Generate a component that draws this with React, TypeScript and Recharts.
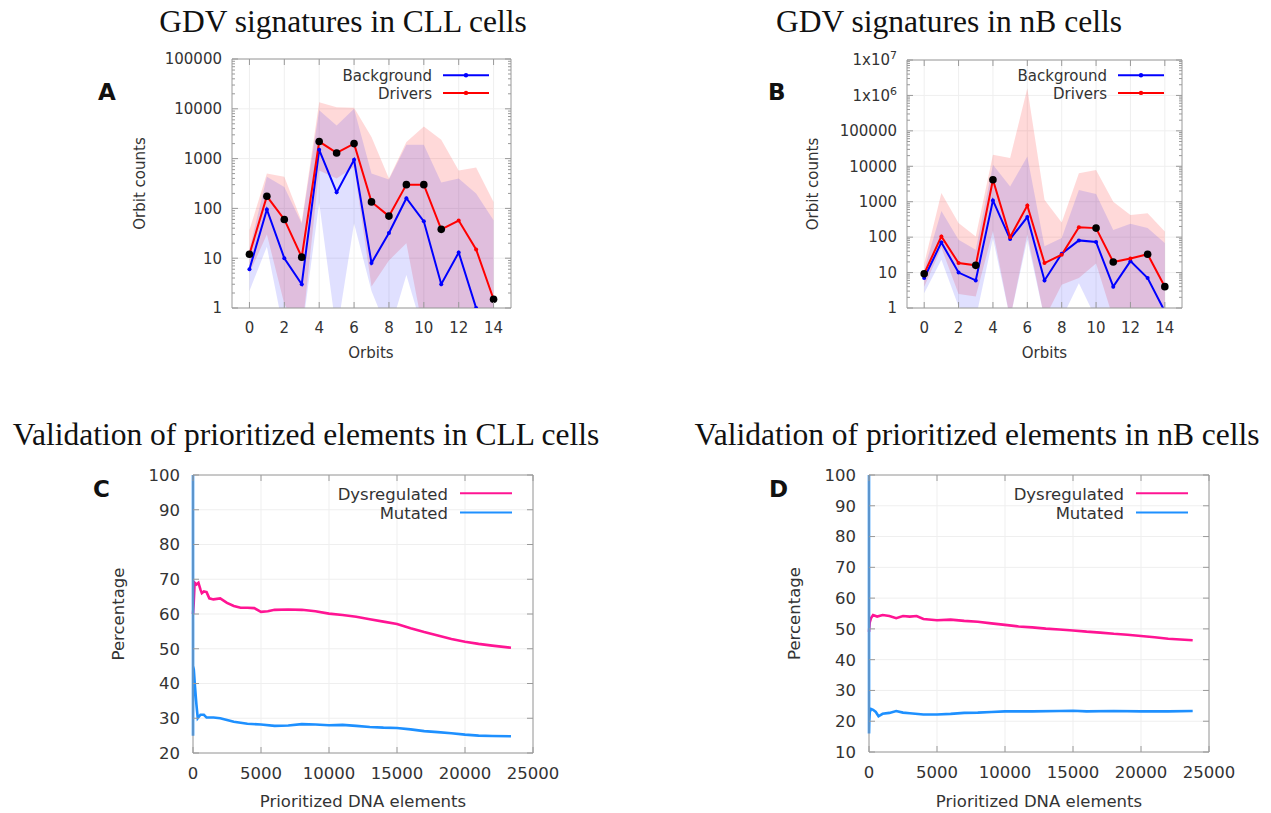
import React from "react";
import { ComposedChart, LineChart, Line, Area, XAxis, YAxis, CartesianGrid, Legend, ReferenceLine } from "recharts";

// ---- GDV panels (A, B) ----
const orbits = [0, 1, 2, 3, 4, 5, 6, 7, 8, 9, 10, 11, 12, 13, 14];
const orbitTicks = [0, 2, 4, 6, 8, 10, 12, 14];

// CLL cells
const cllBackground = [6, 95, 10, 3, 1500, 210, 950, 8, 32, 160, 55, 3, 13, 1, null];
const cllDrivers = [12, 175, 60, 10.5, 2200, 1300, 2000, 135, 70, 300, 300, 38, 57, 15, 1.5];
const cllSignificant = [1, 1, 1, 1, 1, 1, 1, 1, 1, 1, 1, 1, 0, 0, 1];
const cllBgLow = [2.2, 17, 0.3, 0.3, 130, 0.3, 50, 2.2, 0.3, 4.6, 0.3, 0.3, 0.3, 0.3, 0.3];
const cllBgHigh = [15, 430, 270, 50, 9300, 4600, 10000, 500, 380, 1900, 1900, 330, 400, 200, 58];
const cllDrvLow = [5, 30, 1.2, 0.3, 580, 400, 680, 2.7, 9, 20, 0.3, 0.3, 0.3, 0.3, 0.3];
const cllDrvHigh = [37, 500, 430, 54, 13500, 10700, 10500, 2700, 400, 2150, 4400, 2400, 580, 660, 135];
const cllTicks = [1, 10, 100, 1000, 10000, 100000];
const cllTickLabels = ["1", "10", "100", "1000", "10000", "100000"];

// nB cells
const nbBackground = [7, 71, 10, 6, 1090, 88, 370, 6, 34, 81, 73, 4, 21, 7, 0.8];
const nbDrivers = [9.3, 105, 18.5, 16, 4150, 100, 780, 18.5, 32, 190, 180, 19.8, 25, 33, 4];
const nbSignificant = [1, 0, 0, 1, 1, 0, 0, 0, 0, 0, 1, 1, 0, 1, 1];
const nbBgLow = [2.6, 23, 1.1, 0.5, 93, 0.5, 85, 0.5, 0.5, 5, 0.5, 0.5, 0.5, 0.5, 0.5];
const nbBgHigh = [12, 550, 85, 44, 11000, 2700, 19000, 55, 94, 2150, 1650, 160, 240, 180, 68];
const nbDrvLow = [4, 50, 2.5, 2.1, 150, 0.5, 120, 0.5, 4.5, 7, 18, 0.5, 0.5, 0.5, 0.5];
const nbDrvHigh = [18, 1750, 250, 105, 21000, 17000, 1600000, 1140, 260, 6400, 7900, 1000, 425, 475, 145];
const nbTicks = [1, 10, 100, 1000, 10000, 100000, 1000000, 10000000];
const nbTickLabels = ["1", "10", "100", "1000", "10000", "100000", "1x10^6", "1x10^7"];

// ---- Validation panels (C, D) ----
const pdeTicks = [0, 5000, 10000, 15000, 20000, 25000];

const cllDysX = [0, 50, 120, 250, 400, 550, 650, 800, 1000, 1200, 1500, 2000, 2500, 3000, 3500, 4000, 4500, 5000, 5500, 6000, 7000, 8000, 9000, 10000, 11000, 12000, 13000, 14000, 15000, 16000, 17000, 18000, 19000, 20000, 21000, 22000, 23380];
const cllDysY = [60, 63, 69, 68.5, 69, 67, 66, 66.5, 66.3, 64.5, 64.2, 64.5, 63.2, 62.3, 61.8, 61.8, 61.7, 60.6, 60.8, 61.2, 61.3, 61.2, 60.8, 60.1, 59.7, 59.2, 58.5, 57.8, 57.1, 55.9, 54.8, 53.8, 52.8, 52, 51.4, 50.9, 50.3];
const cllMutX = [0, 3, 10, 60, 150, 250, 350, 450, 550, 800, 1000, 1500, 2000, 2500, 3000, 4000, 5000, 6000, 7000, 8000, 9000, 10000, 11000, 12000, 13000, 14000, 15000, 16000, 17000, 18000, 19000, 20000, 21000, 22000, 23380];
const cllMutY = [100, 25, 45, 44, 39, 34, 30, 30.5, 31, 31, 30.2, 30.2, 30, 29.5, 29, 28.4, 28.2, 27.8, 27.9, 28.3, 28.2, 28, 28.1, 27.8, 27.5, 27.3, 27.2, 26.8, 26.3, 26, 25.7, 25.3, 25, 24.9, 24.8];
const cllPctTicks = [20, 30, 40, 50, 60, 70, 80, 90, 100];

const nbDysX = [0, 50, 150, 300, 600, 1000, 1500, 2000, 2500, 3000, 3500, 4000, 5000, 6000, 7000, 8000, 9000, 10000, 11000, 12000, 13000, 14000, 15000, 16000, 17000, 18000, 19000, 20000, 21000, 22000, 23800];
const nbDysY = [49, 52, 53.5, 54.5, 54, 54.5, 54.2, 53.5, 54.2, 54, 54.2, 53.2, 52.8, 53, 52.6, 52.3, 51.8, 51.3, 50.8, 50.5, 50.1, 49.8, 49.5, 49.1, 48.8, 48.4, 48.1, 47.7, 47.3, 46.8, 46.3];
const nbMutX = [0, 3, 20, 60, 150, 300, 500, 700, 1000, 1500, 2000, 2500, 3000, 4000, 5000, 6000, 7000, 8000, 9000, 10000, 12000, 14000, 15000, 16000, 18000, 20000, 22000, 23800];
const nbMutY = [100, 16, 20, 23, 24, 23.7, 23, 21.6, 22.4, 22.7, 23.3, 22.8, 22.6, 22.2, 22.2, 22.4, 22.7, 22.8, 23, 23.2, 23.2, 23.3, 23.4, 23.2, 23.3, 23.2, 23.2, 23.3];
const nbPctTicks = [10, 20, 30, 40, 50, 60, 70, 80, 90, 100];

const FRAME = "#9a9a9a";
const GRID = "#efefef";
const TXT = "#333";
const SANS = "DejaVu Sans";
const SERIF = "Liberation Serif";

const gdvRows = (bg: any[], drv: any[], bgLo: number[], bgHi: number[], drvLo: number[], drvHi: number[]) =>
  orbits.map((orbit, i) => ({
    orbit,
    background: bg[i],
    drivers: drv[i],
    bgRange: [bgLo[i], bgHi[i]],
    drvRange: [drvLo[i], drvHi[i]],
  }));

const cllRows = gdvRows(cllBackground, cllDrivers, cllBgLow, cllBgHigh, cllDrvLow, cllDrvHigh);
const nbRows = gdvRows(nbBackground, nbDrivers, nbBgLow, nbBgHigh, nbDrvLow, nbDrvHigh);

const pairs = (xs: number[], ys: number[]) => xs.map((x, i) => ({ x, y: ys[i] }));

const minorLog = (maxExp: number) => {
  const out: number[] = [];
  for (let e = 0; e < maxExp; e++) for (let m = 2; m <= 9; m++) out.push(m * Math.pow(10, e));
  return out;
};

// plot box inside a chart, from its size, margins and axis sizes
const plotBox = (w: number, h: number, m: any, yW: number, xH: number) => ({
  left: m.left + yW,
  right: w - m.right,
  top: m.top,
  bottom: h - m.bottom - xH,
});

// x tick: label below, inward marks at bottom and top (gnuplot style)
function XTick({ x, y, payload, box, fontSize }: any) {
  return (
    <g>
      <line x1={x} x2={x} y1={box.bottom} y2={box.bottom - 6} stroke={FRAME} />
      <line x1={x} x2={x} y1={box.top} y2={box.top + 6} stroke={FRAME} />
      <text x={x} y={y} dy="0.71em" textAnchor="middle" fontFamily={SANS} fontSize={fontSize} fill={TXT}>
        {payload.value}
      </text>
    </g>
  );
}

// y tick: label for major values, inward marks on left and right, short ones for minors
function YTick({ x, y, payload, box, fontSize, majors, labels }: any) {
  const k = majors.indexOf(payload.value);
  const len = k >= 0 ? 6 : 3;
  const label = k >= 0 ? labels[k] : "";
  const [mant, exp] = label.split("^");
  return (
    <g>
      <line x1={box.left} x2={box.left + len} y1={y} y2={y} stroke={FRAME} />
      <line x1={box.right - len} x2={box.right} y1={y} y2={y} stroke={FRAME} />
      {k >= 0 && (
        <text x={x} y={y} dy="0.355em" textAnchor="end" fontFamily={SANS} fontSize={fontSize} fill={TXT}>
          {mant}
          {exp && (
            <tspan dy={-6} fontSize={11}>
              {exp}
            </tspan>
          )}
        </text>
      )}
    </g>
  );
}

function SeriesLegend({ payload, textRight, lineLen, gap, rowH, fontSize, lift, dot }: any) {
  const items = (payload || []).filter((e: any) => e.type !== "none");
  return (
    <svg width={textRight + gap + lineLen + 4} height={fontSize + rowH * items.length} style={{ display: "block", overflow: "visible" }}>
      {items.map((e: any, i: number) => {
        const base = fontSize + i * rowH;
        const ly = base - lift;
        const x1 = textRight + gap;
        const x2 = x1 + lineLen;
        return (
          <g key={i}>
            <text x={textRight} y={base} textAnchor="end" fontFamily={SANS} fontSize={fontSize} fill={TXT}>
              {e.value}
            </text>
            <line x1={x1} x2={x2} y1={ly} y2={ly} stroke={e.color} strokeWidth={2} />
            {dot && <circle cx={(x1 + x2) / 2} cy={ly} r={2.2} fill={e.color} />}
          </g>
        );
      })}
    </svg>
  );
}

function GdvPanel({ left, top, marginTop, marginRight, rows, sig, yTicks, yLabels, minor }: any) {
  const yMax = yTicks[yTicks.length - 1];
  const margin = { top: marginTop, right: marginRight, bottom: 0, left: 0 };
  const box = plotBox(430, 310, margin, 132, 32);
  const redDot = (p: any) => {
    const { cx, cy, index } = p;
    if (cx == null || cy == null) return <g key={index} />;
    return sig[index] ? (
      <circle key={index} cx={cx} cy={cy} r={3.8} fill="#000" />
    ) : (
      <circle key={index} cx={cx} cy={cy} r={2} fill="#ff0000" />
    );
  };
  return (
    <div style={{ position: "absolute", left, top }}>
      <ComposedChart width={430} height={310} data={rows} margin={margin}>
        <CartesianGrid stroke={GRID} horizontalValues={yTicks} verticalValues={orbitTicks} />
        <XAxis dataKey="orbit" type="number" domain={[-1, 15]} allowDataOverflow ticks={orbitTicks} interval={0} height={32}
          tickLine={false} tickSize={0} tickMargin={14} axisLine={{ stroke: FRAME }}
          tick={(p: any) => <XTick {...p} box={box} fontSize={15} />} />
        <YAxis type="number" scale="log" domain={[1, yMax]} allowDataOverflow ticks={[...yTicks, ...minor]} interval={0} width={132}
          tickLine={false} tickSize={0} tickMargin={10} axisLine={{ stroke: FRAME }}
          tick={(p: any) => <YTick {...p} box={box} fontSize={15} majors={yTicks} labels={yLabels} />} />
        <ReferenceLine y={yMax} stroke={FRAME} />
        <ReferenceLine x={15} stroke={FRAME} />
        <Area dataKey="drvRange" type="linear" stroke="none" fill="#ff0000" fillOpacity={0.15} legendType="none" isAnimationActive={false} />
        <Area dataKey="bgRange" type="linear" stroke="none" fill="#0000ff" fillOpacity={0.12} legendType="none" isAnimationActive={false} />
        <Line dataKey="background" name="Background" type="linear" stroke="#0000ff" strokeWidth={2}
          dot={{ r: 2, fill: "#0000ff", stroke: "none" }} isAnimationActive={false} />
        <Line dataKey="drivers" name="Drivers" type="linear" stroke="#ff0000" strokeWidth={2} dot={redDot} isAnimationActive={false} />
        <Legend layout="vertical" align="center" verticalAlign="middle" wrapperStyle={{ left: 200, top: 35.7 }}
          content={(p: any) => <SeriesLegend payload={p.payload} textRight={132} lineLen={46} gap={11} rowH={17.6} fontSize={15} lift={5.7} dot />} />
      </ComposedChart>
    </div>
  );
}

function ValidationPanel({ left, dys, mut, yTicks, xAxisHeight }: any) {
  const yDomain = [yTicks[0], yTicks[yTicks.length - 1]];
  const margin = { top: 15, right: 47, bottom: 0, left: 0 };
  const box = plotBox(520, 330, margin, 133, xAxisHeight);
  const labels = yTicks.map(String);
  return (
    <div style={{ position: "absolute", left, top: 460 }}>
      <LineChart width={520} height={330} margin={margin}>
        <CartesianGrid stroke={GRID} horizontalValues={yTicks} verticalValues={pdeTicks} />
        <XAxis dataKey="x" type="number" domain={[0, 25000]} ticks={pdeTicks} interval={0} height={xAxisHeight}
          tickLine={false} tickSize={0} tickMargin={14} axisLine={{ stroke: FRAME }}
          tick={(p: any) => <XTick {...p} box={box} fontSize={16.5} />} />
        <YAxis type="number" domain={yDomain} ticks={yTicks} interval={0} width={133}
          tickLine={false} tickSize={0} tickMargin={13} axisLine={{ stroke: FRAME }}
          tick={(p: any) => <YTick {...p} box={box} fontSize={16.5} majors={yTicks} labels={labels} />} />
        <ReferenceLine y={yDomain[1]} stroke={FRAME} />
        <ReferenceLine x={25000} stroke={FRAME} />
        <Line data={dys} dataKey="y" name="Dysregulated" type="linear" stroke="#ff1493" strokeWidth={2.6} dot={false} isAnimationActive={false} />
        <Line data={mut} dataKey="y" name="Mutated" type="linear" stroke="#1e90ff" strokeWidth={2.6} dot={false} isAnimationActive={false} />
        <Legend layout="vertical" align="center" verticalAlign="middle" wrapperStyle={{ left: 220, top: 22.5 }}
          content={(p: any) => <SeriesLegend payload={p.payload} textRight={168} lineLen={52} gap={12} rowH={19.3} fontSize={16.5} lift={6.3} />} />
      </LineChart>
    </div>
  );
}

export default function App() {
  const lbl = { fontFamily: SANS, fill: TXT } as any;
  const ttl = { fontFamily: SERIF, fontSize: 31.5, fill: "#111", textAnchor: "middle" } as any;
  const letter = { fontFamily: SANS, fontSize: 23, fontWeight: "bold", fill: "#111" } as any;
  return (
    <div style={{ position: "absolute", left: 0, top: 0, width: 1271, height: 813, background: "#fff", overflow: "hidden" }}>
      <GdvPanel left={100} top={30} marginTop={29} marginRight={19} rows={cllRows} sig={cllSignificant}
        yTicks={cllTicks} yLabels={cllTickLabels} minor={minorLog(5)} />
      <GdvPanel left={775} top={30} marginTop={30} marginRight={23} rows={nbRows} sig={nbSignificant}
        yTicks={nbTicks} yLabels={nbTickLabels} minor={minorLog(7)} />
      <ValidationPanel left={60} dys={pairs(cllDysX, cllDysY)} mut={pairs(cllMutX, cllMutY)} yTicks={cllPctTicks} xAxisHeight={37} />
      <ValidationPanel left={736} dys={pairs(nbDysX, nbDysY)} mut={pairs(nbMutX, nbMutY)} yTicks={nbPctTicks} xAxisHeight={38} />

      <svg width={1271} height={813} style={{ position: "absolute", left: 0, top: 0, pointerEvents: "none" }}>
        <text x={343} y={32} {...ttl}>GDV signatures in CLL cells</text>
        <text x={949} y={32} {...ttl}>GDV signatures in nB cells</text>
        <text x={306} y={445} {...ttl}>Validation of prioritized elements in CLL cells</text>
        <text x={977} y={445} {...ttl}>Validation of prioritized elements in nB cells</text>

        <text x={98} y={100} {...letter}>A</text>
        <text x={768} y={100} {...letter}>B</text>
        <text x={93} y={497} {...letter}>C</text>
        <text x={769} y={497} {...letter}>D</text>

        <text {...lbl} fontSize={15} textAnchor="middle" transform="translate(145,183.5) rotate(-90)">Orbit counts</text>
        <text {...lbl} fontSize={15} textAnchor="middle" transform="translate(818,184) rotate(-90)">Orbit counts</text>
        <text {...lbl} fontSize={15} textAnchor="middle" x={371} y={358}>Orbits</text>
        <text {...lbl} fontSize={15} textAnchor="middle" x={1044.5} y={358}>Orbits</text>

        <text {...lbl} fontSize={16.5} textAnchor="middle" transform="translate(124,614) rotate(-90)">Percentage</text>
        <text {...lbl} fontSize={16.5} textAnchor="middle" transform="translate(800,613.5) rotate(-90)">Percentage</text>
        <text {...lbl} fontSize={16.5} textAnchor="middle" x={363} y={807}>Prioritized DNA elements</text>
        <text {...lbl} fontSize={16.5} textAnchor="middle" x={1039} y={807}>Prioritized DNA elements</text>
      </svg>
    </div>
  );
}
